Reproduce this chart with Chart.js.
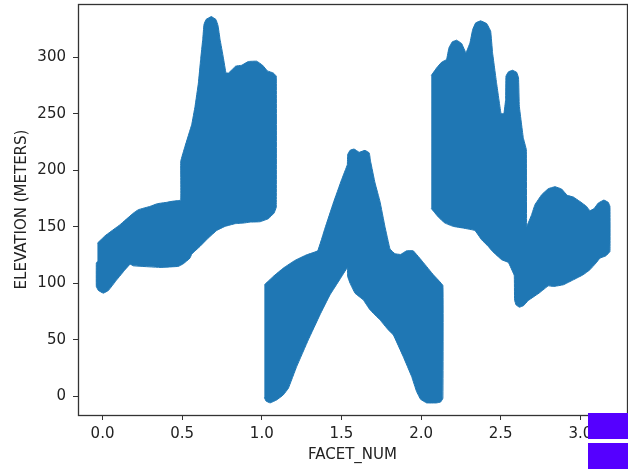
<html>
<head>
    <style>
        body {
            margin: 0;
            background: #fff;
        }

        .mark {
            position: absolute;
            left: 588px;
            width: 40px;
            height: 26px;
            background: #5500ff;
        }
    </style>
    <script src="https://cdn.jsdelivr.net/npm/chart.js@4/dist/chart.umd.min.js"></script>
    <script>
        // outline of each group of dots
        var leftFacet = [-0.032, 0.016, 0.110, 0.194, 0.225, 0.298, 0.344, 0.403, 0.445, 0.491, 0.491, 0.518, 0.560, 0.581, 0.602, 0.616, 0.629, 0.637, 0.650, 0.683, 0.712, 0.725, 0.738, 0.759, 0.775, 0.792, 0.836, 0.874, 0.915, 0.968, 1.005, 1.035, 1.072, 1.091, 1.091, 1.077, 1.041, 0.989, 0.926, 0.884, 0.832, 0.769, 0.717, 0.664, 0.612, 0.560, 0.549, 0.507, 0.476, 0.361, 0.194, 0.173, 0.141, 0.089, 0.037, 0.005, -0.026, -0.039, -0.039, -0.032];
        var leftElevation = [135.5, 142.0, 151.8, 162.1, 165.1, 168.0, 170.4, 171.6, 172.7, 173.6, 207.9, 221.2, 240.4, 256.6, 277.3, 298.0, 315.7, 329.0, 333.4, 336.0, 333.4, 328.1, 315.7, 299.4, 286.1, 286.1, 292.1, 292.9, 296.2, 296.5, 292.9, 287.9, 286.1, 283.2, 167.4, 162.1, 157.1, 154.4, 154.1, 153.2, 152.7, 150.3, 146.7, 140.0, 132.6, 125.8, 122.2, 117.2, 114.9, 114.0, 115.4, 116.9, 111.9, 103.0, 93.6, 91.2, 93.6, 97.1, 117.8, 119.3];

        var middleFacet = [1.016, 1.072, 1.135, 1.208, 1.282, 1.351, 1.397, 1.449, 1.501, 1.537, 1.539, 1.554, 1.579, 1.612, 1.648, 1.675, 1.683, 1.711, 1.742, 1.773, 1.805, 1.836, 1.872, 1.909, 1.951, 2.014, 2.077, 2.137, 2.137, 2.123, 2.098, 2.035, 1.997, 1.972, 1.941, 1.888, 1.826, 1.794, 1.742, 1.679, 1.637, 1.585, 1.554, 1.539, 1.537, 1.491, 1.428, 1.365, 1.292, 1.219, 1.167, 1.135, 1.093, 1.052, 1.026, 1.016];
        var middleElevation = [98.6, 106.0, 113.4, 120.2, 125.2, 128.7, 148.8, 171.0, 191.6, 204.9, 213.8, 217.6, 218.8, 215.9, 217.6, 215.3, 207.9, 188.7, 172.4, 150.3, 130.2, 126.1, 125.5, 128.7, 128.7, 118.4, 107.5, 98.0, -1.8, -5.1, -5.9, -5.9, -2.7, 4.1, 17.4, 35.1, 54.3, 58.7, 67.6, 76.5, 85.3, 91.2, 100.1, 106.0, 113.7, 103.6, 89.7, 72.0, 49.9, 26.3, 7.1, 1.2, -3.3, -5.9, -4.2, -0.9];

        var rightFacet = [2.064, 2.098, 2.129, 2.160, 2.175, 2.196, 2.223, 2.255, 2.282, 2.307, 2.324, 2.343, 2.374, 2.412, 2.437, 2.449, 2.474, 2.502, 2.520, 2.531, 2.533, 2.548, 2.573, 2.600, 2.612, 2.617, 2.642, 2.661, 2.663, 2.694, 2.715, 2.757, 2.799, 2.841, 2.882, 2.918, 2.956, 2.997, 3.039, 3.060, 3.085, 3.113, 3.148, 3.175, 3.186, 3.186, 3.161, 3.123, 3.098, 3.060, 3.018, 2.956, 2.893, 2.830, 2.799, 2.746, 2.673, 2.642, 2.617, 2.596, 2.587, 2.585, 2.548, 2.506, 2.449, 2.422, 2.380, 2.338, 2.265, 2.202, 2.150, 2.108, 2.064];
        var rightElevation = [283.8, 290.6, 295.6, 298.0, 308.3, 313.6, 315.1, 312.1, 303.9, 312.7, 324.5, 330.4, 332.2, 329.8, 323.1, 303.9, 277.3, 250.1, 250.1, 262.5, 283.2, 287.0, 288.5, 286.7, 281.7, 256.6, 228.6, 218.2, 150.3, 160.6, 169.5, 178.3, 183.7, 185.4, 183.4, 177.8, 176.3, 172.4, 168.0, 164.2, 165.9, 171.0, 173.6, 171.6, 168.0, 128.1, 124.3, 122.2, 117.8, 111.9, 107.5, 103.0, 98.6, 97.1, 97.7, 91.8, 84.7, 80.0, 78.8, 80.9, 85.3, 106.9, 118.4, 120.8, 128.1, 132.6, 138.5, 146.7, 148.8, 150.3, 153.2, 158.6, 166.2];

        var facetTicks = [0, 0.5, 1, 1.5, 2, 2.5, 3];
        var facetLabels = ['0.0', '0.5', '1.0', '1.5', '2.0', '2.5', '3.0'];
        var elevationTicks = [0, 50, 100, 150, 200, 250, 300];
        var elevationLabels = ['0', '50', '100', '150', '200', '250', '300'];

        function blob(xs, ys) {
            return {
                data: xs.map(function(x, i) {
                    return { x: x, y: ys[i] };
                }),
                showLine: true,
                fill: 'shape',
                tension: 0.06,
                pointRadius: 0,
                borderWidth: 1,
                borderColor: '#1f77b4',
                backgroundColor: '#1f77b4'
            };
        }

        function axisOptions(name, ticks, labels, labelGap) {
            return {
                title: {
                    display: true,
                    text: name,
                    color: '#222',
                    font: { family: 'DejaVu Sans', size: 15 },
                    padding: { top: 13, bottom: 8 }
                },
                border: { display: false },
                grid: { drawOnChartArea: false, drawTicks: true, tickLength: 5, tickColor: '#333', lineWidth: 1 },
                ticks: {
                    color: '#222',
                    font: { family: 'DejaVu Sans', size: 15 },
                    padding: labelGap,
                    maxRotation: 0,
                    autoSkip: false,
                    includeBounds: false,
                    callback: function(value) {
                        return labels[ticks.indexOf(value)];
                    }
                },
                afterBuildTicks: function(axis) {
                    axis.ticks = ticks.map(function(v) {
                        return { value: v };
                    });
                }
            };
        }

        // the four spines
        var frame = {
            id: 'frame',
            afterDraw: function(chart) {
                var a = chart.chartArea;
                var ctx = chart.ctx;
                ctx.save();
                ctx.strokeStyle = '#333';
                ctx.lineWidth = 1.3;
                ctx.strokeRect(Math.round(a.left) + 0.5, Math.round(a.top) + 0.5, Math.round(a.right - a.left), Math.round(a.bottom - a.top));
                ctx.restore();
            }
        };

        window.onload = function() {
            var xAxis = axisOptions('FACET_NUM', facetTicks, facetLabels, 5);
            xAxis.type = 'linear';
            xAxis.min = -0.154;
            xAxis.max = 3.293;
            xAxis.afterFit = function(s) {
                s.height = 57;
                s.paddingLeft = 0;
                s.paddingRight = 0;
            };

            var yAxis = axisOptions('ELEVATION (METERS)', elevationTicks, elevationLabels, 7);
            yAxis.type = 'linear';
            yAxis.min = -16.6;
            yAxis.max = 347.1;
            yAxis.afterFit = function(s) {
                s.width = 78;
                s.paddingTop = 0;
                s.paddingBottom = 0;
            };

            new Chart(document.getElementById('canvas').getContext('2d'), {
                type: 'scatter',
                data: {
                    datasets: [
                        blob(leftFacet, leftElevation),
                        blob(middleFacet, middleElevation),
                        blob(rightFacet, rightElevation)
                    ]
                },
                options: {
                    responsive: false,
                    animation: false,
                    layout: { padding: { top: 4, right: 1 } },
                    plugins: {
                        legend: { display: false },
                        tooltip: { enabled: false }
                    },
                    scales: { x: xAxis, y: yAxis }
                },
                plugins: [frame]
            });
        };
    </script>
</head>

<body>
    <canvas id="canvas" width="628" height="472" style="display:block"></canvas>
    <div class="mark" style="top:413px"></div>
    <div class="mark" style="top:443px"></div>
</body>
</html>
